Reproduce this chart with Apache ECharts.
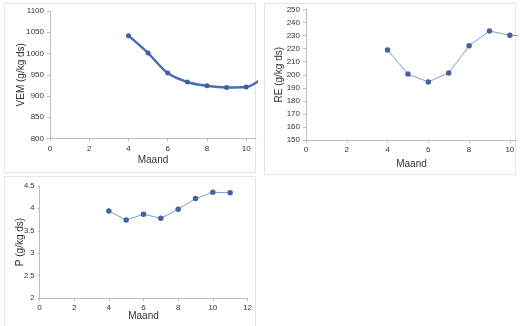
<!DOCTYPE html>
<html><head><meta charset="utf-8">
<script src="https://cdn.jsdelivr.net/npm/echarts@6/dist/echarts.min.js"></script>
<style>html,body{margin:0;padding:0;background:#fff}#c{width:530px;height:326px}</style>
</head><body><div id="c"></div>
<script>
// Data
const months = [4, 5, 6, 7, 8, 9, 10, 11];
const vem = [1042, 1001, 954, 933, 924, 920, 921, 950];
const re = [219, 200.5, 194.5, 201.3, 222.2, 233.5, 230.3, 229.5];
const p = [3.94, 3.74, 3.87, 3.78, 3.98, 4.22, 4.36, 4.35];
const xTicks12 = [0, 2, 4, 6, 8, 10, 12];
const xTicks10 = [0, 2, 4, 6, 8, 10];
const vemTicks = [800, 850, 900, 950, 1000, 1050, 1100];
const reTicks = [150, 160, 170, 180, 190, 200, 210, 220, 230, 240, 250];
const pTicks = [2, 2.5, 3, 3.5, 4, 4.5];

const pair = (xs, ys) => xs.map((x, i) => [x, ys[i]]);
const font = 'Liberation Sans, Arial, sans-serif';
const axColor = '#bdbdbd';
const txt = '#333';
const plain = v => String(v);

function xAxis(gi, max, ticks, gap) {
  return {
    type: 'value', gridIndex: gi, min: 0, max: max, interval: 2,
    name: 'Maand', nameLocation: 'middle', nameGap: gap, nameMoveOverlap: false,
    nameTextStyle: {fontFamily: font, fontSize: 10, color: txt},
    axisLine: {lineStyle: {color: axColor}},
    axisTick: {show: true, length: 3, customValues: ticks, lineStyle: {color: axColor}},
    axisLabel: {customValues: ticks, formatter: plain, fontFamily: font, fontSize: 8, color: txt, margin: 6},
    splitLine: {show: false}
  };
}
function yAxis(gi, min, max, interval, name, gap, ticks, margin, fs, tickLen) {
  return {
    type: 'value', gridIndex: gi, min: min, max: max, interval: interval,
    name: name, nameLocation: 'middle', nameGap: gap, nameMoveOverlap: false,
    nameTextStyle: {fontFamily: font, fontSize: 10, color: txt},
    axisLine: {show: true, lineStyle: {color: axColor}},
    axisTick: {show: true, length: tickLen, customValues: ticks, lineStyle: {color: axColor}},
    axisLabel: {customValues: ticks, formatter: plain, fontFamily: font, fontSize: fs, color: txt, margin: margin},
    splitLine: {show: false}
  };
}

const chart = echarts.init(document.getElementById('c'), null, {renderer: 'canvas'});
chart.setOption({
  animation: false,
  backgroundColor: '#fff',
  graphic: [
    {type: 'rect', shape: {x: 4.5, y: 3.5, width: 251, height: 169}, style: {fill: 'none', stroke: '#e6e6e6', lineWidth: 1}},
    {type: 'rect', shape: {x: 264.5, y: 3.5, width: 251, height: 171}, style: {fill: 'none', stroke: '#e6e6e6', lineWidth: 1}},
    {type: 'rect', shape: {x: 4.5, y: 176.5, width: 251, height: 160}, style: {fill: 'none', stroke: '#e6e6e6', lineWidth: 1}}
  ],
  grid: [
    {left: 50, top: 11, width: 206, height: 127.5},
    {left: 306, top: 9.5, width: 211, height: 130.5},
    {left: 39.5, top: 186, width: 208, height: 112}
  ],
  xAxis: [
    xAxis(0, 10.5, xTicks10, 17),
    xAxis(1, 10.35, xTicks10, 19),
    xAxis(2, 12, xTicks12, 13.5)
  ],
  yAxis: [
    yAxis(0, 800, 1100, 50, 'VEM (g/kg ds)', 24, vemTicks, 6, 8, 3),
    yAxis(1, 150, 250, 10, 'RE (g/kg ds)', 22, reTicks, 6, 8, 3),
    yAxis(2, 2, 4.5, 0.5, 'P (g/kg ds)', 14.5, pTicks, 5, 7.5, 2)
  ],
  series: [
    {type: 'line', xAxisIndex: 0, yAxisIndex: 0, data: pair(months, vem), smooth: 0.35, clip: true,
     symbol: 'circle', symbolSize: 5, lineStyle: {color: '#4a6db3', width: 2.5}, itemStyle: {color: '#3d5fa6'}},
    {type: 'line', xAxisIndex: 1, yAxisIndex: 1, data: pair(months, re), clip: true,
     symbol: 'circle', symbolSize: 5.5, lineStyle: {color: '#7d9fd3', width: 1}, itemStyle: {color: '#45629e'}},
    {type: 'line', xAxisIndex: 2, yAxisIndex: 2, data: pair(months, p), clip: true,
     symbol: 'circle', symbolSize: 5.5, lineStyle: {color: '#7d9fd3', width: 1}, itemStyle: {color: '#45629e'}}
  ]
});
</script></body></html>
